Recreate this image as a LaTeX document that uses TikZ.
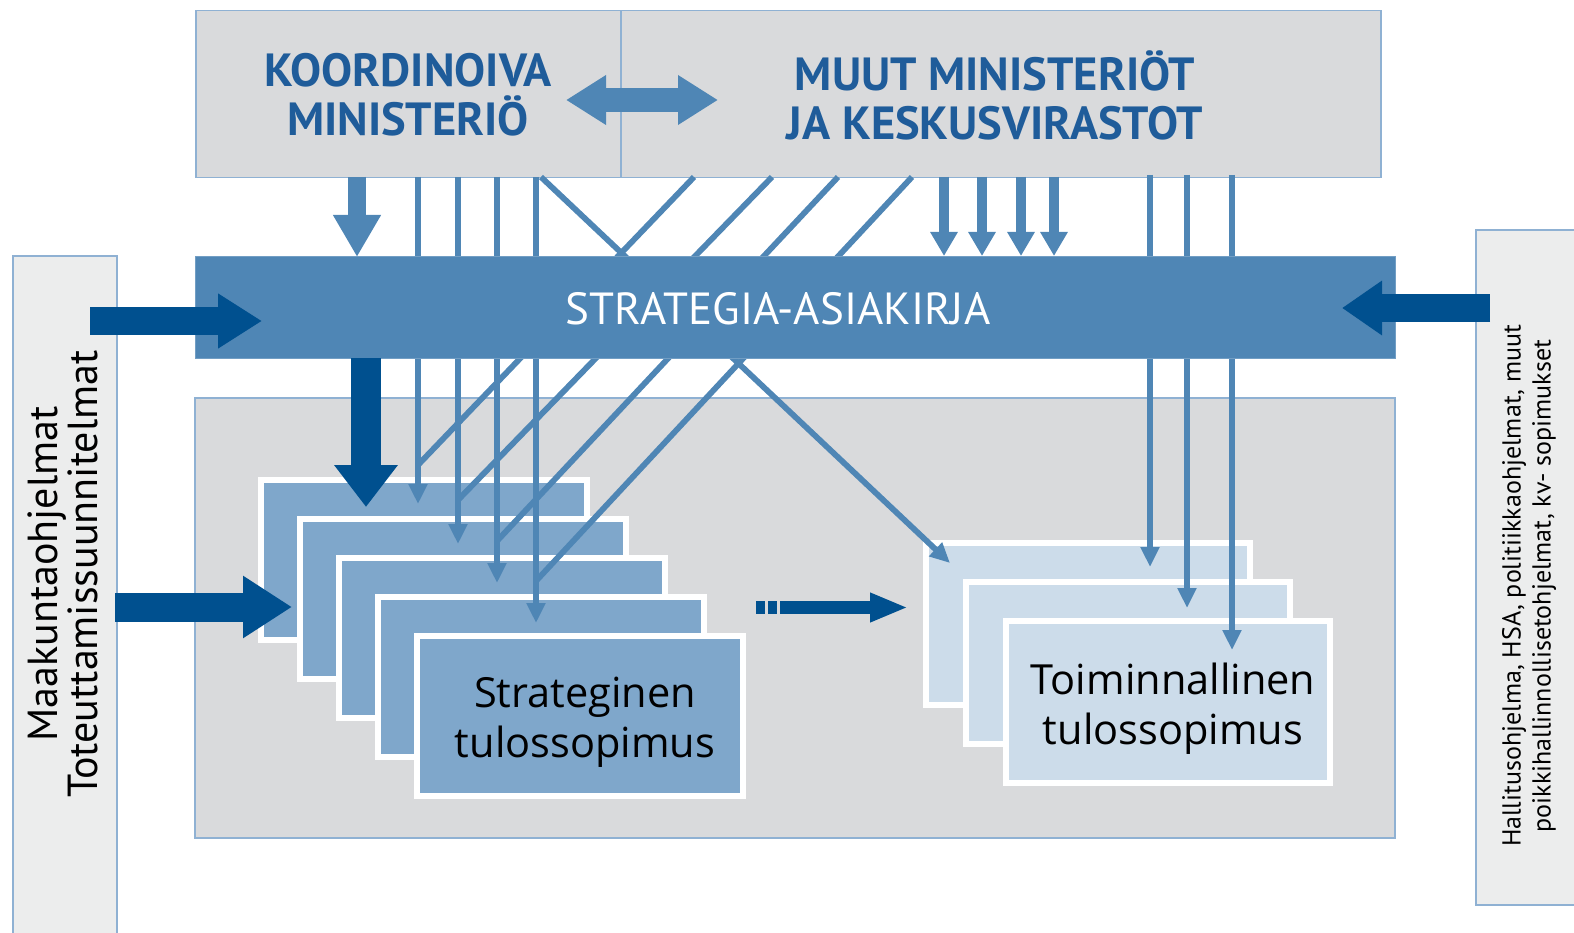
\documentclass[tikz,border=0pt]{standalone}
\usepackage{fontspec}
\setmainfont{PT Sans}
\newfontfamily\osans{Open Sans}
\usetikzlibrary{arrows.meta}
\definecolor{midblue}{HTML}{4F86B5}
\definecolor{darkblue}{HTML}{00508F}
\definecolor{txtblue}{HTML}{1F5C9A}
\definecolor{panelgray}{HTML}{D9DADC}
\definecolor{stripgray}{HTML}{ECEDED}
\definecolor{edgeblue}{HTML}{8FB1D3}
\definecolor{stackblue}{HTML}{7FA7CB}
\definecolor{stacklight}{HTML}{CCDCEA}
\begin{document}
\begin{tikzpicture}[x=1pt,y=-1pt,
  panel/.style={fill=panelgray,draw=edgeblue,line width=1.5pt},
  sidestrip/.style={fill=stripgray,draw=edgeblue,line width=1.5pt},
  card/.style={draw=white,line width=6pt,fill=stackblue,anchor=north west,
    minimum width=326pt,minimum height=160pt,inner sep=0pt,outer sep=0pt},
  lightcard/.style={card,fill=stacklight,minimum width=324pt,minimum height=162pt},
  thinline/.style={draw=midblue,line width=5.8pt},
  thinarrow/.style={thinline,-{Triangle[width=18pt,length=20pt]}},
  toptext/.style={text=txtblue,align=center,font=\bfseries\fontsize{46.5}{49}\selectfont},
  cardtext/.style={align=center,font=\osans\fontsize{41.5}{50}\selectfont},
  sidetext/.style={rotate=90,align=center},
]
\useasboundingbox (0,0) rectangle (1574,933);
% side strips
\draw[sidestrip] (13,256) rectangle (117,945);
\draw[sidestrip] (1476,230) rectangle (1590,905);
% bottom panel
\draw[panel] (195,398) rectangle (1395,838);
% top boxes
\node[panel,draw,anchor=north west,minimum width=425pt,minimum height=167pt,inner sep=0pt] (km) at (195,10) {};
\node[panel,draw,anchor=north west,minimum width=760pt,minimum height=167pt,inner sep=0pt] (mm) at (620,10) {};
\node[toptext] (kmt) at (408,95) {KOORDINOIVA\\MINISTERIÖ};
\node[toptext] (mmt) at (995,95) {MUUT MINISTERIÖT\\JA KESKUSVIRASTOT};
% double arrow
\coordinate (dl) at (566,100);
\coordinate (dr) at (718,100);
\draw[midblue,line width=24pt,{Triangle[width=47pt,length=40pt]}-{Triangle[width=47pt,length=40pt]}] (dl) -- (dr);
% left stack
\foreach \k in {0,...,4}{
  \node[card] (s\k) at ({261+39*\k},{480+39*\k}) {};
}
\node[cardtext] (st) at ([xshift=5pt,yshift=-6pt]s4.center) {Strateginen\\tulossopimus};
% right stack
\foreach \k in {0,...,2}{
  \node[lightcard] (t2\k) at ({926+40*\k},{543+39*\k}) {};
}
\node[cardtext] (tt) at ([xshift=5pt,yshift=-7pt]t22.center) {Toiminnallinen\\tulossopimus};
% thin connectors (behind the bar)
\coordinate (v1a) at (418,177); \coordinate (v1b) at (418,504);
\coordinate (v2a) at (458,177); \coordinate (v2b) at (458,544);
\coordinate (v3a) at (497,177); \coordinate (v3b) at (497,583);
\coordinate (v4a) at (536,177); \coordinate (v4b) at (536,623);
\draw[thinarrow] (v1a) -- (v1b);
\draw[thinarrow] (v2a) -- (v2b);
\draw[thinarrow] (v3a) -- (v3b);
\draw[thinarrow] (v4a) -- (v4b);
\coordinate (da) at (694,177); \coordinate (db) at (418,465);
\coordinate (ea) at (772,177); \coordinate (eb) at (458,500);
\coordinate (fa) at (838,177); \coordinate (fb) at (497,541);
\coordinate (ga) at (912,177); \coordinate (gb) at (536,581);
\draw[thinline] (da) -- (db);
\draw[thinline] (ea) -- (eb);
\draw[thinline] (fa) -- (fb);
\draw[thinline] (ga) -- (gb);
\coordinate (xa) at (541,177); \coordinate (xb) at (950,563);
\draw[thinarrow] (xa) -- (xb);
\coordinate (r1a) at (1150,175); \coordinate (r1b) at (1150,567);
\coordinate (r2a) at (1187,175); \coordinate (r2b) at (1187,608);
\coordinate (r3a) at (1232,175); \coordinate (r3b) at (1232,650);
\draw[thinarrow] (r1a) -- (r1b);
\draw[thinarrow] (r2a) -- (r2b);
\draw[thinarrow] (r3a) -- (r3b);
% strategy bar
\node[fill=midblue,draw=midblue!80!white,line width=1pt,anchor=north west,minimum width=1200pt,minimum height=102pt,inner sep=0pt] (bar) at (195,256) {};
\node[text=white,font=\fontsize{45}{48}\selectfont] (bart) at (778,309) {STRATEGIA-ASIAKIRJA};
% block arrows top
\draw[midblue,line width=18pt,-{Triangle[width=45pt,length=42pt]}] (357,177) -- (357,257);
\foreach \x in {944,982,1021,1054}{
  \draw[midblue,line width=10pt,-{Triangle[width=26pt,length=24pt]}] (\x,177) -- (\x,256);
}
% big dark down arrow
\draw[darkblue,line width=30pt,-{Triangle[width=61pt,length=42pt]}] (366,358) -- (366,507);
% side arrows
\draw[darkblue,line width=28pt,-{Triangle[width=52pt,length=44pt]}] (90,321) -- (262,321);
\draw[darkblue,line width=29pt,-{Triangle[width=59pt,length=49pt]}] (115,607) -- (292,607);
\draw[darkblue,line width=28pt,-{Triangle[width=52pt,length=40pt]}] (1490,308) -- (1342,308);
% dashed connector between stacks
\fill[darkblue] (756,601) rectangle (765,614);
\fill[darkblue] (768,601) rectangle (777,614);
\draw[darkblue,line width=13pt,-{Triangle[width=27pt,length=38pt]}] (780,607.5) -- (908,607.5);
% side texts
\node[sidetext,font=\fontsize{42}{40}\selectfont] (lt) at (63,574) {Maakuntaohjelmat\\Toteuttamissuunnitelmat};
\node[sidetext,font=\fontsize{26}{30}\selectfont] (rt) at (1529,586) {Hallitusohjelma, HSA, politiikkaohjelmat, muut\\poikkihallinnollisetohjelmat, kv- sopimukset};
\end{tikzpicture}
\end{document}
